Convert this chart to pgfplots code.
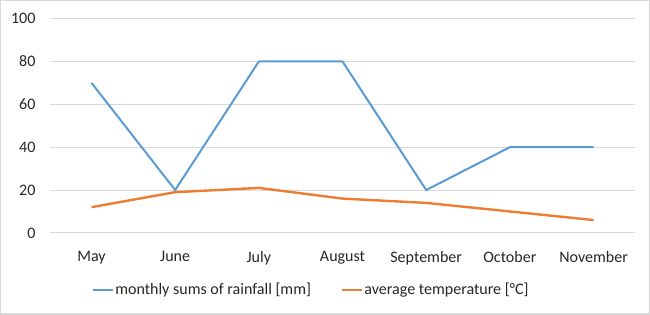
\documentclass[border=0pt]{standalone}
\usepackage{pgfplots}
\pgfplotsset{compat=1.18}
\usepackage{fontspec}
\setmainfont{Carlito}
\definecolor{rainblue}{HTML}{5B9BD5}
\definecolor{temporange}{HTML}{ED7D31}
\definecolor{gridgray}{HTML}{D9D9D9}
\definecolor{textgray}{HTML}{262626}
\begin{document}
\begin{tikzpicture}
  % chart area frame
  \draw[gridgray, line width=1.2pt] (1pt,1pt) rectangle (649pt,314pt);
  \begin{axis}[
    at={(50pt,82pt)}, anchor=south west,
    scale only axis, width=585pt, height=214pt,
    xmin=-0.5, xmax=6.5, ymin=0, ymax=100,
    axis line style={draw=none},
    xtick={0,...,6},
    xticklabels={May,June,July,August,September,October,November},
    ytick={0,20,...,100},
    ymajorgrids, grid style={gridgray, line width=1pt},
    major tick length=0pt,
    font=\fontsize{16}{19}\selectfont,
    tick label style={text=textgray, inner sep=0pt},
    yticklabel style={xshift=-14pt},
    xticklabel style={yshift=-18pt, anchor=north},
    /pgf/number format/assume math mode=true,
    legend columns=2,
    legend style={at={(0.446,-0.215)}, anchor=north, draw=none, fill=none,
      font=\fontsize{16}{19}\selectfont, text=textgray,
      nodes={inner xsep=1pt},
      /tikz/every even column/.append style={column sep=29pt}},
    legend image code/.code={\draw[#1, line cap=butt] (0pt,0pt) -- (20pt,0pt);},
    legend cell align=left,
  ]
    \addplot[rainblue, line width=2pt, line join=round] coordinates {
      (0,70) (1,20) (2,80) (3,80) (4,20) (5,40) (6,40)};
    \addlegendentry{monthly sums of rainfall [mm]}
    \addplot[temporange, line width=2.4pt, line join=round] coordinates {
      (0,12) (1,19) (2,21) (3,16) (4,14) (5,10) (6,6)};
    \addlegendentry{average temperature [°C]}
  \end{axis}
\end{tikzpicture}
\end{document}
